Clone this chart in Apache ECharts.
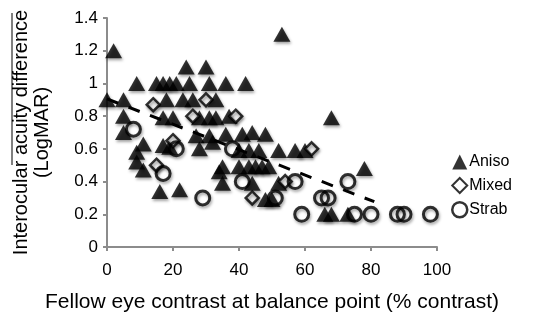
<!DOCTYPE html>
<html><head><meta charset="utf-8">
<script src="https://cdn.jsdelivr.net/npm/echarts@6/dist/echarts.min.js"></script>
<style>html,body{margin:0;padding:0;background:#fff}#c{width:544px;height:320px}</style>
</head><body><div id="c"></div>
<script>
const xTicks = [0, 20, 40, 60, 80, 100];
const yTicks = [0, 0.2, 0.4, 0.6, 0.8, 1, 1.2, 1.4];
const seriesNames = ['Aniso', 'Mixed', 'Strab'];

const anisoX = [53, 2, 24, 30, 9, 15, 17, 19, 21, 25, 31, 36, 42,
  0, 5, 18, 23, 26, 33,
  5, 17, 20, 28, 31, 33, 37, 68,
  5, 9, 27, 31, 36, 41, 44, 48,
  11, 17, 19, 28, 32, 40, 43, 46, 52, 57, 60,
  9, 11, 35, 40, 43, 45, 47, 49, 78,
  16, 22, 34, 35, 44, 52,
  48, 50, 66, 68, 73];
const anisoY = [1.3, 1.2, 1.1, 1.1, 1.0, 1.0, 1.0, 1.0, 1.0, 1.0, 1.0, 1.0, 1.0,
  0.9, 0.9, 0.9, 0.9, 0.9, 0.9,
  0.8, 0.79, 0.79, 0.79, 0.79, 0.79, 0.8, 0.79,
  0.7, 0.58, 0.68, 0.68, 0.69, 0.69, 0.7, 0.69,
  0.63, 0.62, 0.61, 0.6, 0.64, 0.59, 0.59, 0.59, 0.59, 0.59, 0.59,
  0.52, 0.47, 0.49, 0.49, 0.49, 0.49, 0.49, 0.49, 0.48,
  0.34, 0.35, 0.46, 0.39, 0.39, 0.39,
  0.29, 0.29, 0.2, 0.2, 0.2];

const mixedX = [14, 30, 26, 39, 15, 20, 62, 54, 44];
const mixedY = [0.87, 0.9, 0.8, 0.8, 0.5, 0.65, 0.6, 0.4, 0.3];

const strabX = [8, 17, 21, 29, 38, 41, 51, 57, 59, 65, 67, 73, 75, 80, 88, 90, 98];
const strabY = [0.72, 0.45, 0.6, 0.3, 0.6, 0.4, 0.3, 0.4, 0.2, 0.3, 0.3, 0.4, 0.2, 0.2, 0.2, 0.2, 0.2];

const trendX = [0, 81];
const trendY = [0.905, 0.277];

const zip = (xs, ys) => xs.map((x, i) => [x, ys[i]]);
const shadow = {shadowBlur: 3, shadowColor: 'rgba(0,0,0,0.45)', shadowOffsetX: 1, shadowOffsetY: 2};
const triPath = 'path://M0,-10 L11,9 L-11,9 Z';

const chart = echarts.init(document.getElementById('c'), null, {renderer: 'canvas'});
chart.setOption({
  animation: false,
  textStyle: {fontFamily: 'Liberation Sans, Arial, sans-serif'},
  grid: {left: 107, right: 107, top: 18, bottom: 73},
  legend: {
    orient: 'vertical', left: 446, top: 149, itemGap: 7, itemWidth: 15, itemHeight: 15,
    textStyle: {fontSize: 16, color: '#000', padding: [0, 0, 0, -3]},
    data: [
      {name: seriesNames[0], icon: 'triangle'},
      {name: seriesNames[1], icon: 'diamond', itemStyle: {color: '#fff', borderColor: '#000', borderWidth: 2}},
      {name: seriesNames[2], icon: 'circle', itemStyle: {color: '#fff', borderColor: '#000', borderWidth: 2.5}}
    ]
  },
  xAxis: {
    type: 'value', min: xTicks[0], max: xTicks[xTicks.length - 1], interval: 20,
    name: 'Fellow eye contrast at balance point (% contrast)', nameLocation: 'middle', nameGap: 45,
    nameTextStyle: {fontSize: 21, color: '#000'},
    axisLine: {show: true, lineStyle: {color: '#8c8c8c', width: 2}},
    axisTick: {show: true, inside: false, length: 4, lineStyle: {color: '#8c8c8c', width: 2}},
    axisLabel: {fontSize: 17, color: '#000', margin: 15},
    splitLine: {show: false}
  },
  yAxis: {
    type: 'value', min: yTicks[0], max: yTicks[yTicks.length - 1], interval: 0.2,
    name: 'Interocular acuity difference\n(LogMAR)', nameLocation: 'middle', nameGap: 54,
    nameTextStyle: {fontSize: 20, color: '#000', lineHeight: 21},
    axisLine: {show: true, lineStyle: {color: '#8c8c8c', width: 2}},
    axisTick: {show: true, inside: false, length: 4, lineStyle: {color: '#8c8c8c', width: 2}},
    axisLabel: {fontSize: 17, color: '#000', margin: 9},
    splitLine: {show: false}
  },
  series: [
    {name: seriesNames[0], type: 'scatter', data: zip(anisoX, anisoY), symbol: triPath, symbolSize: [17, 15],
      itemStyle: Object.assign({color: '#000'}, shadow), z: 3},
    {name: seriesNames[1], type: 'scatter', data: zip(mixedX, mixedY), symbol: 'diamond', symbolSize: 13,
      itemStyle: Object.assign({color: '#fff', borderColor: '#000', borderWidth: 2.5}, shadow), z: 4},
    {name: seriesNames[2], type: 'scatter', data: zip(strabX, strabY), symbol: 'circle', symbolSize: 14,
      itemStyle: Object.assign({color: 'rgba(255,255,255,0)', borderColor: '#000', borderWidth: 3}, shadow), z: 5},
    {name: 'trend', type: 'line', data: zip(trendX, trendY), symbol: 'none', silent: true,
      lineStyle: {color: '#000', width: 3, type: [12, 11]}, z: 6}
  ],
  graphic: [{type: 'line', shape: {x1: 12, y1: 13, x2: 12, y2: 165}, style: {stroke: '#000', lineWidth: 1}}]
});
</script></body></html>
